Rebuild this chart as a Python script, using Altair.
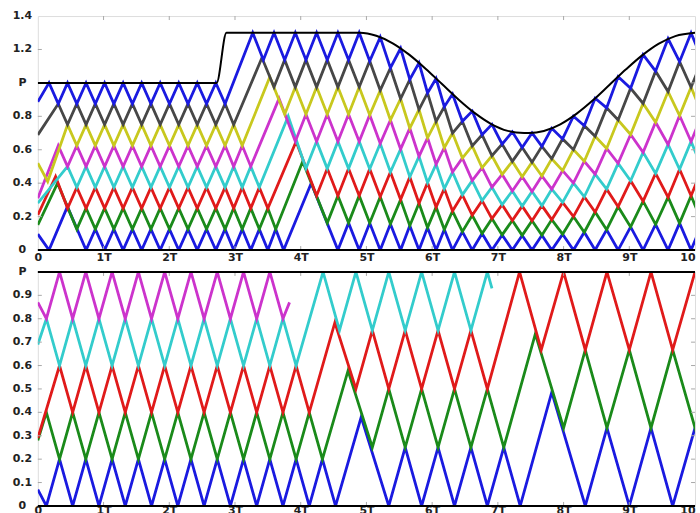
import altair as alt
import pandas as pd

# Time is measured in carrier periods T; P is the envelope level.

# ---------------------------------------------------------------- upper panel
# black envelope P(t)
env_t = [0.0, 2.72, 2.87, 4.9, 5.15, 5.4, 5.65, 5.9, 6.15, 6.4, 6.65, 6.9,
         7.15, 7.4, 7.47, 7.7, 7.95, 8.2, 8.45, 8.7, 8.95, 9.2, 9.45, 9.7, 10.0]
env_p = [1.0, 1.0, 1.3, 1.3, 1.282, 1.237, 1.169, 1.085, 0.993, 0.901, 0.819,
         0.754, 0.713, 0.700, 0.700, 0.712, 0.752, 0.816, 0.897, 0.989, 1.081,
         1.166, 1.235, 1.280, 1.300]

# first stage (P = 1, eight bands of 0.125): common turning instants
up_a_turns = [0.17, 0.311, 0.452, 0.593, 0.734, 0.875, 1.016, 1.157, 1.298,
              1.439, 1.58, 1.721, 1.862, 2.003, 2.144, 2.285, 2.426, 2.567,
              2.708, 2.849, 2.98, 3.11, 3.24, 3.37, 3.50, 3.62, 3.74]

# second stage: turning instants and envelope level at each of them
up_b_turns = [3.27, 3.432, 3.594, 3.756, 3.918, 4.08, 4.242, 4.404, 4.566,
              4.728, 4.89, 5.05, 5.21, 5.365, 5.52, 5.66, 5.80, 5.93, 6.06,
              6.185, 6.31, 6.46, 6.61, 6.76, 6.91, 7.065, 7.22, 7.37, 7.52,
              7.67, 7.82, 7.985, 8.15, 8.315, 8.48, 8.655, 8.83, 9.02, 9.21,
              9.40, 9.59, 9.765, 9.94, 10.11]
up_b_level = [1.3, 1.3, 1.3, 1.3, 1.3, 1.3, 1.3, 1.3, 1.3, 1.3, 1.3,
              1.293, 1.274, 1.245, 1.207, 1.166, 1.120, 1.074, 1.026, 0.980,
              0.933, 0.880, 0.831, 0.788, 0.752, 0.724, 0.707, 0.701, 0.701,
              0.709, 0.728, 0.760, 0.801, 0.850, 0.908, 0.972, 1.037, 1.106,
              1.169, 1.223, 1.264, 1.288, 1.299, 1.30]

up_tick_v = [0, 0.2, 0.4, 0.6, 0.8, 1.0, 1.2, 1.4]
up_tick_s = ["0", "0.2", "0.4", "0.6", "0.8", "P", "1.2", "1.4"]

# ---------------------------------------------------------------- lower panel
lo5_turns = [0.13, 0.33, 0.53, 0.73, 0.93, 1.13, 1.33, 1.53, 1.73, 1.93,
             2.13, 2.33, 2.53, 2.73, 2.93, 3.13, 3.33, 3.53, 3.73, 3.93,
             4.13, 4.33, 4.53]
lo4_turns = [4.34, 4.59, 4.84, 5.09, 5.34, 5.59, 5.84, 6.09, 6.34, 6.59,
             6.84, 7.09, 7.34]
lo3_turns = [7.33, 7.66, 8.0, 8.33, 8.66, 9.0, 9.33, 9.66, 10.0, 10.33]

lo_tick_v = [0, 0.1, 0.2, 0.3, 0.4, 0.5, 0.6, 0.7, 0.8, 0.9, 1.0]
lo_tick_s = ["0", "0.1", "0.2", "0.3", "0.4", "0.5", "0.6", "0.7", "0.8", "0.9", "P"]

x_tick_v = [0, 1, 2, 3, 4, 5, 6, 7, 8, 9, 10]

# a stage: turning instants, band scale, number of bands, which carriers peak first
stages = {
    "A": dict(turns=up_a_turns, level=1.0, bands=8, phase=0),
    "B": dict(turns=up_b_turns, level=up_b_level, bands=8, phase=0),
    "N5": dict(turns=lo5_turns, level=1.0, bands=5, phase=0),
    "N4": dict(turns=lo4_turns, level=1.0, bands=4, phase=0),
    "N3": dict(turns=lo3_turns, level=1.0, bands=3, phase=1),
}

# carriers: name, band index, path (free vertices and stretches of a stage)
up_carriers = [
    ("u0", 0, [(0.0, 0.095), ("A", 0, 0), (0.45, 0.26), ("A", 4, 26),
               (4.16, 0.40), ("B", 8, 43)]),
    ("u1", 1, [(0.0, 0.15), (0.3, 0.4), ("A", 3, 25), (4.03, 0.53), ("B", 7, 43)]),
    ("u2", 2, [(0.0, 0.21), (0.27, 0.44), ("A", 2, 24), (3.93, 0.65), ("B", 6, 43)]),
    ("u3", 3, [(0.0, 0.28), ("A", 2, 23), (3.81, 0.80), ("B", 5, 43)]),
    ("u4", 4, [(0.0, 0.31), ("A", 1, 22), (3.67, 0.906), ("B", 4, 43)]),
    ("u5", 5, [(0.0, 0.52), (0.15, 0.41), ("A", 2, 21), (3.53, 1.035), ("B", 3, 43)]),
    ("u6", 6, [(0.0, 0.689), ("A", 1, 20), (3.41, 1.15), ("B", 2, 43)]),
    ("u7", 7, [(0.0, 0.887), ("A", 0, 19), ("B", 0, 43)]),
]
lo_carriers = [
    ("l0", 0, [(0.0, 0.07), ("N5", 0, 22), (4.92, 0.38), ("N4", 4, 12),
               (7.82, 0.486), ("N3", 3, 9)]),
    ("l1", 1, [(0.0, 0.28), ("N5", 0, 21), (4.72, 0.578), ("N4", 3, 11),
               (7.57, 0.735), ("N3", 2, 9)]),
    ("l2", 2, [(0.0, 0.29), ("N5", 1, 20), (4.52, 0.784), ("N4", 2, 10), ("N3", 0, 9)]),
    ("l3", 3, [(0.0, 0.69), ("N5", 0, 19), ("N4", 0, 10), (6.91, 0.93)]),
    ("l4", 4, [(0.0, 0.87), ("N5", 0, 18), (3.83, 0.87)]),
]

series_names = ["u0", "u1", "u2", "u3", "u4", "u5", "u6", "u7",
                "l0", "l1", "l2", "l3", "l4"]
series_colors = ["#1a1ae0", "#1a8a1a", "#e01a1a", "#33cccc", "#cc33cc",
                 "#c8c81e", "#474747", "#1a1ae0",
                 "#1a1ae0", "#1a8a1a", "#e01a1a", "#33cccc", "#cc33cc"]

zero_level = [0.0]
top_level = [1.0]


def path_vertices(k, path):
    pts = []
    for piece in path:
        if isinstance(piece[0], str):
            st = stages[piece[0]]
            for j in range(piece[1], piece[2] + 1):
                lvl = st["level"][j] if isinstance(st["level"], list) else st["level"]
                edge = k + 1 if (j + k + st["phase"]) % 2 else k
                pts.append((st["turns"][j], lvl * edge / st["bands"]))
        else:
            pts.append(piece)
    return pts


def frame(carriers):
    rows = []
    for name, k, path in carriers:
        for i, (t, y) in enumerate(path_vertices(k, path)):
            rows.append({"series": name, "i": i, "t": t, "y": y})
    return pd.DataFrame(rows)


up_df = frame(up_carriers)
lo_df = frame(lo_carriers)
env_df = pd.DataFrame({"t": env_t, "p": env_p})

FONT = "DejaVu Sans"
TICK_GREY = "#a8a8a8"


def x_axis(pad):
    # the last label sits against the right edge of the panel
    return alt.Axis(values=x_tick_v, title=None, domain=False, ticks=False,
                    tickSize=0, grid=False, labelPadding=pad, labelFontSize=11,
                    labelFont=FONT, labelFontWeight="bold", labelColor="#222",
                    labelOverlap=False, labelFlush=False,
                    labelAlign={"condition": {"test": "datum.value == 10", "value": "right"},
                                "value": "center"},
                    labelExpr="datum.value == 0 ? '0' : (datum.value == 10 ? '10' : datum.value + 'T')")


x_scale = alt.Scale(domain=[0, 10], nice=False, zero=False)
color_enc = alt.Color("series:N", scale=alt.Scale(domain=series_names, range=series_colors),
                      legend=None)
no_y_axis = alt.Axis(labels=False, ticks=False, domain=False, grid=False, title=None)


def tick_labels(values, texts):
    df = pd.DataFrame({"v": values, "s": texts})
    return alt.Chart(df).mark_text(align="center", baseline="middle", font=FONT,
                                   fontSize=11, fontWeight="bold", color="#222").encode(
        x=alt.value(-15.5), y=alt.Y("v:Q"), text="s:N")


def edge_ticks(yvals, ymax):
    # short inward tick marks on the four sides of a panel
    inner_x = [v for v in x_tick_v if 0 < v < 10]
    inner_y = [v for v in yvals if 0 < v < ymax]
    dy = ymax * 4 / 235
    dx = 10 * 4 / 660
    vert = pd.DataFrame({"x": inner_x * 2,
                         "y": [ymax] * len(inner_x) + [0] * len(inner_x),
                         "y2": [ymax - dy] * len(inner_x) + [dy] * len(inner_x)})
    horiz = pd.DataFrame({"y": inner_y * 2,
                          "x": [0] * len(inner_y) + [10] * len(inner_y),
                          "x2": [dx] * len(inner_y) + [10 - dx] * len(inner_y)})
    v = alt.Chart(vert).mark_rule(color=TICK_GREY, strokeWidth=1).encode(
        x="x:Q", y="y:Q", y2="y2")
    h = alt.Chart(horiz).mark_rule(color=TICK_GREY, strokeWidth=1).encode(
        y="y:Q", x="x:Q", x2="x2")
    return v, h


up_y = alt.Scale(domain=[0, 1.4], nice=False, zero=False)
lo_y = alt.Scale(domain=[0, 1.0], nice=False, zero=False)

up_lines = alt.Chart(up_df).mark_line(strokeWidth=2.8, clip=True).encode(
    x=alt.X("t:Q", scale=x_scale, axis=x_axis(2)),
    y=alt.Y("y:Q", scale=up_y, axis=no_y_axis),
    color=color_enc, detail="series:N", order="i:Q")
up_env = alt.Chart(env_df).mark_line(color="black", strokeWidth=2, clip=True,
                                     interpolate="monotone").encode(
    x=alt.X("t:Q"), y=alt.Y("p:Q"))
up_zero = alt.Chart(pd.DataFrame({"y": zero_level})).mark_rule(
    color="black", strokeWidth=2).encode(y="y:Q")
up_tv, up_th = edge_ticks(up_tick_v, 1.4)
top = alt.layer(up_lines, up_tv, up_th, up_env, up_zero,
                tick_labels(up_tick_v, up_tick_s)).properties(width=660, height=235)

lo_lines = alt.Chart(lo_df).mark_line(strokeWidth=2.8, clip=True).encode(
    x=alt.X("t:Q", scale=x_scale, axis=x_axis(-1)),
    y=alt.Y("y:Q", scale=lo_y, axis=no_y_axis),
    color=color_enc, detail="series:N", order="i:Q")
lo_zero = alt.Chart(pd.DataFrame({"y": zero_level})).mark_rule(
    color="black", strokeWidth=2).encode(y="y:Q")
lo_top = alt.Chart(pd.DataFrame({"y": top_level})).mark_rule(
    color="black", strokeWidth=2).encode(y="y:Q")
lo_tv, lo_th = edge_ticks(lo_tick_v, 1.0)
bottom = alt.layer(lo_lines, lo_tv, lo_th, lo_zero, lo_top,
                   tick_labels(lo_tick_v, lo_tick_s)).properties(width=660, height=235)

chart = alt.vconcat(top, bottom, spacing=1).properties(
    padding={"left": 12, "top": 8, "right": 3, "bottom": 0}
).configure_view(stroke="#c4c4c4", strokeWidth=1).configure(background="white")

chart.save("out.html", embed_options={"renderer": "svg", "actions": False})
